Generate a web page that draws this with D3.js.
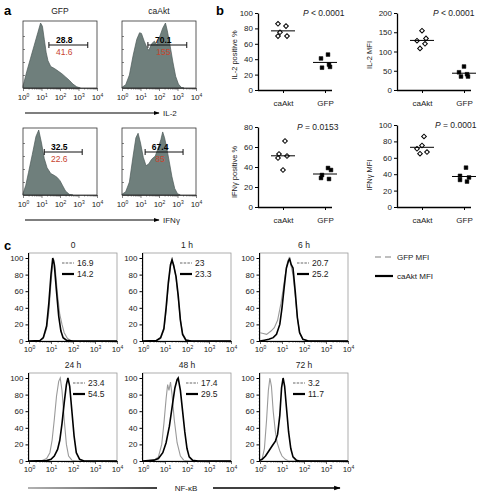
<!DOCTYPE html>
<html><head><meta charset="utf-8">
<script src="https://cdn.jsdelivr.net/npm/d3@7"></script>
<style>body{margin:0;background:#fff;}svg{display:block;}</style>
</head><body><svg id="chart"></svg>
<script>
// ---------------- DATA ----------------
// Panel a: flow histograms (x = log10 fluorescence, y = % of max)
const aSamples = ["GFP", "caAkt"];
const aMarkers = ["IL-2", "IFNγ"];
const il2GFP = [[0,3],[0.2,25],[0.4,45],[0.6,65],[0.8,85],[0.95,100],[1.05,95],[1.15,75],[1.25,55],[1.35,42],[1.5,33],[1.7,30],[1.9,26],[2.1,22],[2.3,17],[2.5,12],[2.7,6],[2.9,2],[3.1,0]];
const il2CaAkt = [[0,1],[0.2,5],[0.4,20],[0.6,50],[0.8,75],[0.95,85],[1.05,84],[1.2,72],[1.35,62],[1.45,58],[1.6,68],[1.75,72],[1.9,66],[2.05,80],[2.2,92],[2.35,100],[2.45,88],[2.6,65],[2.75,40],[2.9,18],[3.05,6],[3.2,1],[3.35,0]];
const ifngGFP = [[0,2],[0.15,15],[0.3,35],[0.5,62],[0.7,90],[0.85,100],[1.0,80],[1.15,56],[1.3,42],[1.5,33],[1.7,30],[1.85,27],[2.0,22],[2.15,14],[2.3,6],[2.5,1],[2.7,0]];
const ifngCaAkt = [[0,1],[0.2,5],[0.4,20],[0.6,60],[0.75,88],[0.87,95],[1.0,80],[1.15,58],[1.3,45],[1.45,48],[1.6,55],[1.8,60],[1.95,72],[2.1,85],[2.2,97],[2.3,88],[2.4,75],[2.55,52],[2.7,28],[2.85,10],[3.0,2],[3.15,0]];
const aGates = [[[1.4,3.5],[1.4,3.5]],[[1.15,3.2],[1.25,3.3]]];
const aPercent = [["28.8","70.1"],["32.5","67.4"]];
const aMFI = [["41.6","155"],["22.6","85"]];

// Panel b: dot plots
const bGroups = ["caAkt", "GFP"];
const il2PctCaAkt = [86, 83, 75, 70, 70];
const il2PctGFP = [46, 41, 33, 29, 30];
const il2MfiCaAkt = [154, 134, 128, 120, 108];
const il2MfiGFP = [61, 46, 41, 35, 35];
const ifngPctCaAkt = [66, 53, 51, 49, 37];
const ifngPctGFP = [39, 37, 32, 28, 29];
const ifngMfiCaAkt = [86, 75, 71, 67, 65];
const ifngMfiGFP = [48, 38, 36, 33, 31];
const bPValues = ["< 0.0001", "< 0.0001", "= 0.0153", "= 0.0001"];
const bYLabels = ["IL-2 positive %", "IL-2 MFI", "IFNγ positive %", "IFNγ MFI"];
const bYMax = [100, 200, 80, 100];
const bYStep = [20, 50, 20, 20];

// Panel c: NF-kB histograms
const cTimes = ["0", "1 h", "6 h", "24 h", "48 h", "72 h"];
const cGFPMFI = ["16.9", "23", "20.7", "23.4", "17.4", "3.2"];
const cCaAktMFI = ["14.2", "23.3", "25.2", "54.5", "29.5", "11.7"];
const cGFP = [
  [[0,0],[0.5,0.5],[0.65,3],[0.8,15],[0.9,35],[1.0,70],[1.08,93],[1.13,98],[1.2,85],[1.3,55],[1.4,32],[1.5,20],[1.6,10],[1.75,3],[1.9,0.5],[2.2,0],[4,0]],
  [[0,0],[0.6,0.5],[0.8,3],[0.95,13],[1.05,36],[1.15,66],[1.25,90],[1.32,97],[1.4,92],[1.5,76],[1.6,52],[1.7,26],[1.8,9],[1.95,2],[2.2,0],[4,0]],
  [[0,10],[0.15,9],[0.3,8],[0.5,12],[0.65,16],[0.8,25],[0.95,45],[1.05,62],[1.15,80],[1.25,95],[1.32,100],[1.4,92],[1.5,80],[1.6,55],[1.7,28],[1.8,10],[1.95,2],[2.2,0],[4,0]],
  [[0,0],[0.6,0.5],[0.8,3],[0.95,10],[1.05,25],[1.15,50],[1.25,78],[1.35,96],[1.42,100],[1.5,85],[1.6,50],[1.7,20],[1.8,6],[1.95,1],[2.2,0],[4,0]],
  [[0,0],[0.5,1],[0.7,5],[0.85,20],[0.95,45],[1.05,75],[1.12,92],[1.18,85],[1.25,95],[1.32,80],[1.42,50],[1.55,22],[1.7,6],[1.85,1],[2.1,0],[4,0]],
  [[0,0],[0.1,3],[0.2,15],[0.3,50],[0.38,85],[0.45,100],[0.52,90],[0.6,60],[0.7,35],[0.78,22],[0.9,12],[1.0,6],[1.15,2],[1.3,0],[4,0]]
];
const cCaAkt = [
  [[0,0],[0.5,0.5],[0.65,4],[0.8,18],[0.9,45],[1.0,80],[1.08,100],[1.15,92],[1.25,60],[1.35,30],[1.45,12],[1.55,4],[1.7,1],[2,0],[4,0]],
  [[0,0],[0.6,0.5],[0.8,4],[0.95,15],[1.05,40],[1.15,70],[1.25,92],[1.32,98],[1.4,90],[1.5,78],[1.6,55],[1.7,25],[1.8,8],[1.95,1],[2.2,0],[4,0]],
  [[0,0],[0.2,1],[0.4,2],[0.6,4],[0.75,8],[0.9,20],[1.0,40],[1.1,65],[1.2,88],[1.3,97],[1.35,99],[1.42,92],[1.5,88],[1.6,60],[1.7,28],[1.8,10],[1.95,2],[2.2,0],[4,0]],
  [[0,0],[0.8,0.5],[1.0,2],[1.15,6],[1.3,14],[1.4,25],[1.5,45],[1.6,70],[1.7,92],[1.77,100],[1.85,90],[1.95,60],[2.05,30],[2.15,10],[2.3,2],[2.5,0],[4,0]],
  [[0,0],[0.5,1],[0.7,3],[0.9,10],[1.05,22],[1.2,42],[1.35,70],[1.45,88],[1.55,98],[1.6,100],[1.7,85],[1.8,60],[1.9,35],[2.0,15],[2.1,5],[2.25,1],[2.5,0],[4,0]],
  [[0,1],[0.1,2],[0.25,6],[0.4,12],[0.55,18],[0.7,24],[0.8,32],[0.9,55],[0.98,88],[1.05,100],[1.12,90],[1.2,65],[1.3,35],[1.4,15],[1.5,5],[1.65,1],[1.8,0],[4,0]]
];
const cLegend = ["GFP MFI", "caAkt MFI"];

// ---------------- STYLE / LAYOUT ----------------
const W = 485, H = 493;
const FONT = '"Liberation Sans", Arial, Helvetica, sans-serif';
const RED = "#c8452f";
const svg = d3.select("#chart").attr("width", W).attr("height", H).attr("font-family", FONT);
svg.append("rect").attr("width", W).attr("height", H).attr("fill", "#fff");
const defs = svg.append("defs");
defs.append("marker").attr("id", "arr").attr("viewBox", "0 0 10 10").attr("refX", 9).attr("refY", 5)
  .attr("markerWidth", 5).attr("markerHeight", 5).attr("orient", "auto")
  .append("path").attr("d", "M0,1.5L10,5L0,8.5Z").attr("fill", "#000");
const grad = defs.append("linearGradient").attr("id", "grd").attr("x1", "0").attr("x2", "1").attr("y1", "0").attr("y2", "0");
grad.append("stop").attr("offset", "0").attr("stop-color", "#999");
grad.append("stop").attr("offset", "1").attr("stop-color", "#000");

const isPow = d => Math.abs(Math.log10(d) - Math.round(Math.log10(d))) < 1e-9;

function logAxis(g, x, opt) {
  const ax = d3.axisBottom(x).tickValues(x.ticks()).tickSize(opt.minor).tickSizeOuter(0)
    .tickFormat(d => isPow(d) ? String(Math.round(Math.log10(d))) : "");
  g.call(ax);
  g.attr("font-family", FONT);
  g.select(".domain").attr("stroke", opt.color || "#000").attr("stroke-width", opt.sw || 1);
  g.selectAll(".tick line").attr("stroke", opt.color || "#000").attr("stroke-width", 0.6)
    .attr("y2", d => isPow(d) ? opt.major : opt.minor);
  g.selectAll(".tick text").each(function (d) {
    const t = d3.select(this);
    if (!isPow(d)) { t.remove(); return; }
    const e = t.text();
    t.text(null).attr("y", opt.textY).attr("dy", 0).attr("font-size", opt.fs).attr("fill", "#222");
    t.append("tspan").text("10");
    t.append("tspan").attr("dy", -opt.fs * 0.4).attr("font-size", opt.fs * 0.62).text(e);
  });
}

function panelLetter(t, x, y) {
  svg.append("text").attr("x", x).attr("y", y).attr("font-size", 13).attr("font-weight", "bold").text(t);
}

// ---------------- PANEL a ----------------
panelLetter("a", 4, 15);
const aX0 = [23, 122], aW = 74, aTop = [21, 128], aBase = [88, 195], aGateY = [45, 152];
const aHist = [[il2GFP, il2CaAkt], [ifngGFP, ifngCaAkt]];
aSamples.forEach((s, c) => {
  svg.append("text").attr("x", aX0[c] + aW / 2).attr("y", 14).attr("text-anchor", "middle")
    .attr("font-size", 8.5).attr("fill", "#222").text(s);
});
aMarkers.forEach((m, r) => {
  aSamples.forEach((s, c) => {
    const g = svg.append("g");
    const x = d3.scaleLog().domain([1, 1e4]).range([aX0[c], aX0[c] + aW]);
    const y = d3.scaleLinear().domain([0, 100]).range([aBase[r], aTop[r] + 2]);
    const area = d3.area().x(d => x(Math.pow(10, d[0]))).y0(aBase[r]).y1(d => y(d[1]));
    g.append("path").datum(aHist[r][c]).attr("d", area).attr("fill", "#6f7f7c")
      .attr("stroke", "#4c5957").attr("stroke-width", 0.7);
    g.append("rect").attr("x", aX0[c]).attr("y", aTop[r]).attr("width", aW).attr("height", aBase[r] - aTop[r])
      .attr("fill", "none").attr("stroke", "#333").attr("stroke-width", 0.8);
    const ly = g.append("g").attr("transform", `translate(${aX0[c]},0)`)
      .call(d3.axisRight(y).tickValues([20, 40, 60, 80]).tickSize(2).tickFormat(""));
    ly.select(".domain").remove();
    ly.selectAll(".tick line").attr("stroke", "#333").attr("stroke-width", 0.6);
    const gx = g.append("g").attr("transform", `translate(0,${aBase[r]})`);
    logAxis(gx, x, { minor: 1.5, major: 3, textY: 12, fs: 8, sw: 0.8, color: "#333" });
    // gate
    const gate = aGates[r][c];
    const gx1 = x(Math.pow(10, gate[0])), gx2 = x(Math.pow(10, gate[1]));
    const gy = aGateY[r];
    g.append("path").attr("d", `M${gx1},${gy - 3}V${gy + 3}M${gx1},${gy}H${gx2}M${gx2},${gy - 3}V${gy + 3}`)
      .attr("stroke", "#111").attr("stroke-width", 1).attr("fill", "none");
    const cx = (gx1 + gx2) / 2 - 4;
    g.append("text").attr("x", cx).attr("y", gy - 2).attr("text-anchor", "middle").attr("font-size", 8.5)
      .attr("font-weight", "bold").attr("fill", "#000").text(aPercent[r][c]);
    g.append("text").attr("x", cx).attr("y", gy + 10).attr("text-anchor", "middle").attr("font-size", 8.5)
      .attr("fill", RED).text(aMFI[r][c]);
  });
  const ay = aBase[r] + 25;
  svg.append("line").attr("x1", 25).attr("x2", 159).attr("y1", ay).attr("y2", ay)
    .attr("stroke", "#000").attr("stroke-width", 1.2).attr("marker-end", "url(#arr)");
  svg.append("text").attr("x", 163).attr("y", ay + 3).attr("font-size", 8).attr("fill", "#222").text(m);
});

// ---------------- PANEL b ----------------
panelLetter("b", 216, 15);
const bData = [[il2PctCaAkt, il2PctGFP], [il2MfiCaAkt, il2MfiGFP], [ifngPctCaAkt, ifngPctGFP], [ifngMfiCaAkt, ifngMfiGFP]];
const bAxisX = [258, 397, 258, 397], bTop = [13, 13, 127, 125], bBottom = [90, 90, 207, 207];
const bLabelX = [237, 372, 237, 372], bLabelY = [55, 55, 172, 175];
const bPX = [303, 433, 297, 435];
const bJitter = [[-5, 3, -3, 4, -5], [0, 4, -5, 3, -2], [2, -4, 4, -5, 0], [2, 0, -5, 5, -2]];
const bJitterG = [[3, -4, 4, -3, 5], [0, -5, 3, -3, 4], [3, 6, -3, 4, -4], [2, -4, 5, -4, 3]];
bData.forEach((pair, i) => {
  const g = svg.append("g");
  const x0 = bAxisX[i];
  const y = d3.scaleLinear().domain([0, bYMax[i]]).range([bBottom[i], bTop[i]]);
  const x = d3.scalePoint().domain(bGroups).range([x0 + 25, x0 + 67]);
  const ya = g.append("g").attr("transform", `translate(${x0},0)`)
    .call(d3.axisLeft(y).tickValues(d3.range(0, bYMax[i] + 1, bYStep[i])).tickSize(3).tickSizeOuter(0).tickPadding(2));
  ya.attr("font-family", FONT).attr("font-size", 8);
  ya.select(".domain").attr("stroke-width", 1.3);
  ya.selectAll(".tick line").attr("stroke-width", 1);
  ya.selectAll(".tick text").attr("fill", "#222");
  const xa = g.append("g").attr("transform", `translate(0,${bBottom[i]})`)
    .call(d3.axisBottom(x).tickSize(3).tickPadding(7));
  xa.attr("font-family", FONT).attr("font-size", 8);
  xa.select(".domain").attr("d", `M${x0},0.5H${x0 + 74}`).attr("stroke-width", 1.3);
  xa.selectAll(".tick line").attr("stroke-width", 1);
  xa.selectAll(".tick text").attr("fill", "#222");
  g.append("text").attr("transform", `translate(${bLabelX[i]},${bLabelY[i]}) rotate(-90)`)
    .attr("text-anchor", "middle").attr("font-size", 7.5).attr("fill", "#222").text(bYLabels[i]);
  const pt = g.append("text").attr("x", bPX[i]).attr("y", bTop[i] + 3).attr("font-size", 8.5).attr("fill", "#222");
  pt.append("tspan").attr("font-style", "italic").text("P");
  pt.append("tspan").text(" " + bPValues[i]);
  // points
  const sym = [d3.symbol().type(d3.symbolSquare).size(11), d3.symbol().type(d3.symbolSquare).size(14)];
  const rot = [45, 0];
  const jit = [bJitter[i], bJitterG[i]];
  pair.forEach((vals, k) => {
    const cx = x(bGroups[k]);
    g.selectAll(null).data(vals).enter().append("path")
      .attr("d", sym[k]).attr("transform", (d, j) => `translate(${cx + jit[k][j]},${y(d)}) rotate(${rot[k]})`)
      .attr("fill", k === 0 ? "#fff" : "#000").attr("stroke", "#000").attr("stroke-width", k === 0 ? 1 : 0.5);
    const m = d3.mean(vals);
    g.append("line").attr("x1", cx - 12).attr("x2", cx + 12).attr("y1", y(m)).attr("y2", y(m))
      .attr("stroke", "#000").attr("stroke-width", 1);
  });
});

// ---------------- PANEL c ----------------
panelLetter("c", 4, 250);
const cX0 = [29, 143, 260], cW = 88, cTop = [253, 373], cY100 = [258, 378], cBase = [341, 461];
const cLegDx = [33, 37, 37, 44, 43, 33];
cTimes.forEach((t, i) => {
  const r = Math.floor(i / 3), c = i % 3;
  const g = svg.append("g");
  const x = d3.scaleLog().domain([1, 1e4]).range([cX0[c], cX0[c] + cW]);
  const y = d3.scaleLinear().domain([0, 100]).range([cBase[r], cY100[r]]);
  g.append("rect").attr("x", cX0[c]).attr("y", cTop[r]).attr("width", cW).attr("height", cBase[r] - cTop[r])
    .attr("fill", "none").attr("stroke", "#999").attr("stroke-width", 0.8);
  g.append("text").attr("x", cX0[c] + cW / 2).attr("y", cTop[r] - 5).attr("text-anchor", "middle")
    .attr("font-size", 8.5).attr("fill", "#222").text(t);
  const line = d3.line().x(d => x(Math.pow(10, d[0]))).y(d => y(d[1]));
  g.append("path").datum(cGFP[i]).attr("d", line).attr("fill", "none").attr("stroke", "#9a9a9a").attr("stroke-width", 1.1);
  g.append("path").datum(cCaAkt[i]).attr("d", line).attr("fill", "none").attr("stroke", "#000").attr("stroke-width", 1.6);
  // y axis
  const ym = g.append("g").attr("transform", `translate(${cX0[c]},0)`)
    .call(d3.axisLeft(y).tickValues(d3.range(0, 101, 4).filter(v => v % 20 !== 0)).tickSize(1.5).tickFormat(""));
  ym.select(".domain").remove();
  ym.selectAll(".tick line").attr("stroke-width", 0.5).attr("stroke", "#444");
  const ya = g.append("g").attr("transform", `translate(${cX0[c]},0)`)
    .call(d3.axisLeft(y).tickValues(d3.range(0, 101, 20)).tickSize(3.5).tickSizeOuter(0).tickPadding(2));
  ya.attr("font-family", FONT).attr("font-size", 8);
  ya.select(".domain").attr("d", `M-0.5,${cBase[r]}V${cTop[r]}`).attr("stroke-width", 1);
  ya.selectAll(".tick text").attr("fill", "#222");
  const gx = g.append("g").attr("transform", `translate(0,${cBase[r]})`);
  logAxis(gx, x, { minor: 1.5, major: 3, textY: 11, fs: 8, sw: 1, color: "#000" });
  // inner legend
  const lx = cX0[c] + cLegDx[i];
  const l1 = cY100[r] + 5, l2 = cY100[r] + 16;
  g.append("line").attr("x1", lx).attr("x2", lx + 12).attr("y1", l1).attr("y2", l1)
    .attr("stroke", "#9a9a9a").attr("stroke-width", 1.6).attr("stroke-dasharray", "2.5,1.2");
  g.append("text").attr("x", lx + 15).attr("y", l1 + 3).attr("font-size", 8.5).attr("fill", "#222").text(cGFPMFI[i]);
  g.append("line").attr("x1", lx).attr("x2", lx + 12).attr("y1", l2).attr("y2", l2)
    .attr("stroke", "#000").attr("stroke-width", 2.2);
  g.append("text").attr("x", lx + 15).attr("y", l2 + 3).attr("font-size", 8.5).attr("fill", "#222").text(cCaAktMFI[i]);
});
// outer legend
const olx = 375;
svg.append("line").attr("x1", olx).attr("x2", olx + 18).attr("y1", 257).attr("y2", 257)
  .attr("stroke", "#aaa").attr("stroke-width", 1.4).attr("stroke-dasharray", "6,4");
svg.append("text").attr("x", olx + 22).attr("y", 260).attr("font-size", 8).attr("fill", "#222").text(cLegend[0]);
svg.append("line").attr("x1", olx).attr("x2", olx + 18).attr("y1", 276).attr("y2", 276)
  .attr("stroke", "#000").attr("stroke-width", 2.2);
svg.append("text").attr("x", olx + 22).attr("y", 279).attr("font-size", 8).attr("fill", "#222").text(cLegend[1]);
// NF-kB arrow
svg.append("line").attr("x1", 28).attr("x2", 157).attr("y1", 488).attr("y2", 488.01)
  .attr("stroke", "url(#grd)").attr("stroke-width", 1.3);
svg.append("text").attr("x", 186).attr("y", 491).attr("text-anchor", "middle").attr("font-size", 8).attr("fill", "#222").text("NF-κB");
svg.append("line").attr("x1", 213).attr("x2", 340).attr("y1", 488).attr("y2", 488)
  .attr("stroke", "#000").attr("stroke-width", 1.3).attr("marker-end", "url(#arr)");
</script>
</body></html>
